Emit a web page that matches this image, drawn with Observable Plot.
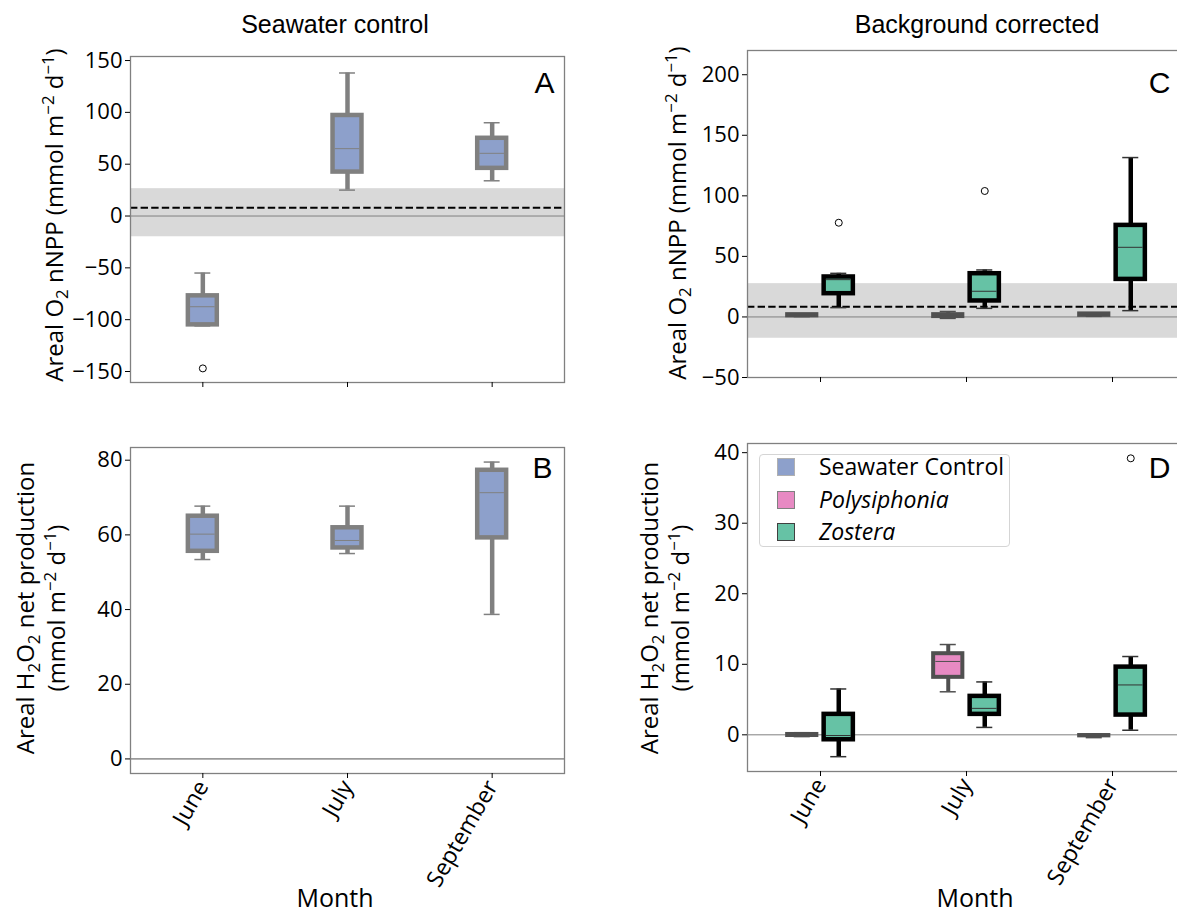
<!DOCTYPE html>
<html><head><meta charset="utf-8">
<script src="https://cdn.jsdelivr.net/npm/d3@7"></script>
<script src="https://cdn.jsdelivr.net/npm/@observablehq/plot@0.6"></script>
<style>
html,body{margin:0;padding:0;background:#fff;overflow:hidden;}
#wrap{position:relative;width:1177px;height:916px;overflow:hidden;font-family:"Open Sans",sans-serif;color:#000;}
#wrap svg{position:absolute;left:0;top:0;max-width:none;background:transparent;overflow:visible;}
.title{position:absolute;font-family:"Liberation Sans",Arial,sans-serif;font-size:25px;transform:translateX(-50%);white-space:nowrap;line-height:1;}
.ylab{position:absolute;font-size:24px;white-space:nowrap;transform:translate(-50%,-50%) rotate(-90deg);line-height:31px;text-align:center;}
.xlab{position:absolute;font-size:25px;transform:translateX(-50%);line-height:1;white-space:nowrap;}
sub,sup{font-size:0.7em;line-height:0;}
#legend{position:absolute;left:759px;top:454px;width:249px;height:91px;border:1px solid #d5d5d5;border-radius:4px;background:rgba(255,255,255,0.85);font-size:23px;}
#legend .sw{position:absolute;left:17px;width:16px;height:16px;}
#legend .lt{position:absolute;left:59px;line-height:1;white-space:nowrap;}
</style>
</head><body>
<div id="wrap"></div>
<script>
const months = ["June", "July", "September"];
const seriesNames = ["Seawater Control", "Polysiphonia", "Zostera"];
const seriesColors = ["#8DA0CB", "#E78AC3", "#66C2A5"];

// Panel A: seawater control, O2 nNPP
const aLo  = [-106, 25, 34];
const aQ1  = [-105, 42.4, 46];
const aMed = [-87.5, 65, 60.5];
const aQ3  = [-77, 97, 75];
const aHi  = [-55, 138, 90];
const aOutMonth = [1];
const aOutVal = [-147];
const aBand = [-20, 26.4];
const aDash = [8];
const aTicks = [-150, -100, -50, 0, 50, 100, 150];

// Panel B: seawater control, H2O2 net production
const bLo  = [53.4, 55, 38.7];
const bQ1  = [55.6, 56.5, 59.2];
const bMed = [60.2, 58.5, 71.3];
const bQ3  = [65, 61.9, 77.3];
const bHi  = [67.7, 67.7, 79.5];
const bTicks = [0, 20, 40, 60, 80];

// Panel C: background corrected O2 nNPP
const cLeftSpecies = ["Seawater Control", "Polysiphonia", "Seawater Control"];
const cLeftLo  = [0.3, -1.2, 0.5];
const cLeftQ1  = [0.9, 0.3, 1.3];
const cLeftMed = [1.4, 1.0, 1.9];
const cLeftQ3  = [1.9, 1.9, 2.5];
const cLeftHi  = [2.6, 4.5, 3.3];
const cZosLo  = [7.7, 7.1, 5.2];
const cZosQ1  = [19.2, 13.2, 31];
const cZosMed = [30.8, 21.2, 57.5];
const cZosQ3  = [33, 35.7, 75.6];
const cZosHi  = [36, 38.8, 131.6];
const cOutMonth = [1, 2];
const cOutVal = [77.8, 104];
const cBand = [-17.6, 27.5];
const cDash = [8.5];
const cTicks = [-50, 0, 50, 100, 150, 200];

// Panel D: background corrected H2O2 net production
const dLeftSpecies = ["Seawater Control", "Polysiphonia", "Seawater Control"];
const dLeftLo  = [-0.25, 6.1, -0.4];
const dLeftQ1  = [-0.1, 8.15, -0.15];
const dLeftMed = [0, 10.4, -0.12];
const dLeftQ3  = [0.05, 11.5, -0.1];
const dLeftHi  = [0.3, 12.8, 0.1];
const dZosLo  = [-3.1, 1.05, 0.65];
const dZosQ1  = [-0.7, 2.9, 2.8];
const dZosMed = [-0.1, 3.75, 7.07];
const dZosQ3  = [2.9, 5.45, 9.6];
const dZosHi  = [6.5, 7.5, 11.1];
const dOutMonth = [3];
const dOutVal = [39.2];
const dTicks = [0, 10, 20, 30, 40];

const colorOf = Object.fromEntries(seriesNames.map((n, i) => [n, seriesColors[i]]));

function boxData(lo, q1, med, q3, hi, offset, species) {
  return months.map((m, i) => ({month: m, pos: i + 1 + offset, lo: lo[i], q1: q1[i], med: med[i], q3: q3[i], hi: hi[i], species: species[i]}));
}
function boxMarks(data, s) {
  const hw = 0.1, cw = 0.055, mw = 0.085;
  return [
    Plot.ruleX(data, {x: "pos", y1: "lo", y2: "q1", stroke: s.stroke, strokeWidth: s.sw}),
    Plot.ruleX(data, {x: "pos", y1: "q3", y2: "hi", stroke: s.stroke, strokeWidth: s.sw}),
    Plot.ruleY(data, {y: "lo", x1: d => d.pos - cw, x2: d => d.pos + cw, stroke: s.cap, strokeWidth: 1.5}),
    Plot.ruleY(data, {y: "hi", x1: d => d.pos - cw, x2: d => d.pos + cw, stroke: s.cap, strokeWidth: 1.5}),
    Plot.rect(data, {x1: d => d.pos - hw, x2: d => d.pos + hw, y1: "q1", y2: "q3", fill: d => colorOf[d.species], stroke: s.stroke, strokeWidth: s.sw}),
    Plot.ruleY(data, {y: "med", x1: d => d.pos - mw, x2: d => d.pos + mw, stroke: s.med, strokeWidth: 1})
  ];
}
function outMarks(mo, val, offset) {
  return Plot.dot(val.map((v, i) => ({pos: mo[i] + offset, v})), {x: "pos", y: "v", r: 3.5, stroke: "#000", strokeWidth: 1, fill: "none"});
}
function letter(t, dx, dy) {
  return Plot.text([t], {text: d => d, frameAnchor: "top-right", textAnchor: "end", lineAnchor: "top", dx, dy, fontSize: 30, fontFamily: "Liberation Sans, Arial, sans-serif", fill: "#000"});
}
function axes(ticks, showLabels) {
  return [
    Plot.axisY({ticks, tickSize: 5, tickPadding: 3, fontSize: 22, fontFamily: "Open Sans", label: null, tickFormat: d3.format("")}),
    Plot.axisX({ticks: [1, 2, 3], tickSize: 5, tickPadding: 4, fontSize: 23, fontFamily: "Open Sans", label: null,
      tickRotate: showLabels ? -60 : 0, tickFormat: showLabels ? (i => months[i - 1]) : (() => "")})
  ];
}

const wrap = document.getElementById("wrap");
const W = 1177, H = 916;
function add(opts) { wrap.appendChild(Plot.plot(Object.assign({width: W, height: H}, opts))); }

const swStyle = {stroke: "#808080", sw: 4.5, cap: "#808080", med: "#808080"};
const zosStyle = {stroke: "#000", sw: 4.5, cap: "#333", med: "#333"};
const leftStyle = {stroke: "#505050", sw: 4, cap: "#505050", med: "#505050"};
const swSpecies = months.map(() => "Seawater Control");
const zosSpecies = months.map(() => "Zostera");

// A
add({
  marginLeft: 130, marginRight: W - 564, marginTop: 56, marginBottom: H - 382,
  x: {domain: [0.5, 3.5]}, y: {domain: [-160.6, 153.9]},
  marks: [
    Plot.rect([aBand], {y1: d => d[0], y2: d => d[1], fill: "#d9d9d9"}),
    Plot.ruleY([0], {stroke: "#808080", strokeWidth: 1}),
    Plot.ruleY(aDash, {stroke: "#000", strokeWidth: 2, strokeDasharray: "7.4,3.2"}),
    ...boxMarks(boxData(aLo, aQ1, aMed, aQ3, aHi, 0, swSpecies), swStyle),
    outMarks(aOutMonth, aOutVal, 0),
    Plot.frame({stroke: "#808080", strokeWidth: 1.3}),
    ...axes(aTicks, false),
    letter("A", -10, 14.7)
  ]
});
// B
add({
  marginLeft: 130, marginRight: W - 564, marginTop: 447, marginBottom: H - 773,
  x: {domain: [0.5, 3.5]}, y: {domain: [-3.9, 83.4]},
  marks: [
    Plot.ruleY([0], {stroke: "#505050", strokeWidth: 1}),
    ...boxMarks(boxData(bLo, bQ1, bMed, bQ3, bHi, 0, swSpecies), swStyle),
    Plot.frame({stroke: "#808080", strokeWidth: 1.3}),
    ...axes(bTicks, true),
    letter("B", -12, 8.7)
  ]
});
// C
add({
  marginLeft: 747, marginRight: -8, marginTop: 50, marginBottom: H - 377,
  x: {domain: [0.5, 3.5]}, y: {domain: [-50, 220]},
  marks: [
    Plot.rect([cBand], {y1: d => d[0], y2: d => d[1], fill: "#d9d9d9"}),
    Plot.ruleY([0], {stroke: "#808080", strokeWidth: 1}),
    Plot.ruleY(cDash, {stroke: "#000", strokeWidth: 2, strokeDasharray: "7.4,3.2"}),
    ...boxMarks(boxData(cLeftLo, cLeftQ1, cLeftMed, cLeftQ3, cLeftHi, -0.125, cLeftSpecies), leftStyle),
    ...boxMarks(boxData(cZosLo, cZosQ1, cZosMed, cZosQ3, cZosHi, 0.125, zosSpecies), zosStyle),
    outMarks(cOutMonth, cOutVal, 0.125),
    Plot.frame({stroke: "#808080", strokeWidth: 1.3}),
    ...axes(cTicks, false),
    letter("C", -15, 20.7)
  ]
});
// D
add({
  marginLeft: 747, marginRight: -8, marginTop: 443, marginBottom: H - 771,
  x: {domain: [0.5, 3.5]}, y: {domain: [-5.2, 41.3]},
  marks: [
    Plot.ruleY([0], {stroke: "#808080", strokeWidth: 1}),
    ...boxMarks(boxData(dLeftLo, dLeftQ1, dLeftMed, dLeftQ3, dLeftHi, -0.125, dLeftSpecies), leftStyle),
    ...boxMarks(boxData(dZosLo, dZosQ1, dZosMed, dZosQ3, dZosHi, 0.125, zosSpecies), zosStyle),
    outMarks(dOutMonth, dOutVal, 0.125),
    Plot.frame({stroke: "#808080", strokeWidth: 1.3}),
    ...axes(dTicks, true),
    letter("D", -15, 12.7)
  ]
});

// HTML text
function el(cls, style, html) {
  const e = document.createElement("div");
  e.className = cls; e.setAttribute("style", style); e.innerHTML = html;
  wrap.appendChild(e); return e;
}
el("title", "left:335px;top:12px;", "Seawater control");
el("title", "left:977px;top:12px;", "Background corrected");
el("xlab", "left:335px;top:885px;", "Month");
el("xlab", "left:975px;top:885px;", "Month");
el("ylab", "left:53px;top:215px;", "Areal O<sub>2</sub> nNPP (mmol m<sup>−2</sup> d<sup>−1</sup>)");
el("ylab", "left:676px;top:213px;", "Areal O<sub>2</sub> nNPP (mmol m<sup>−2</sup> d<sup>−1</sup>)");
el("ylab", "left:40px;top:608px;", "Areal H<sub>2</sub>O<sub>2</sub> net production<br>(mmol m<sup>−2</sup> d<sup>−1</sup>)");
el("ylab", "left:664px;top:608px;", "Areal H<sub>2</sub>O<sub>2</sub> net production<br>(mmol m<sup>−2</sup> d<sup>−1</sup>)");

const leg = document.createElement("div");
leg.id = "legend";
const borders = ["#b0b0b0", "#808080", "#404040"];
const italic = [false, true, true];
seriesNames.forEach((n, i) => {
  const sw = document.createElement("div");
  sw.className = "sw";
  sw.style.top = (3 + i * 32.5) + "px";
  sw.style.background = seriesColors[i];
  sw.style.border = "1px solid " + borders[i];
  leg.appendChild(sw);
  const t = document.createElement("div");
  t.className = "lt";
  t.style.top = (0 + i * 32.5) + "px";
  if (italic[i]) t.style.fontStyle = "italic";
  t.textContent = n;
  leg.appendChild(t);
});
wrap.appendChild(leg);
</script>
</body></html>
